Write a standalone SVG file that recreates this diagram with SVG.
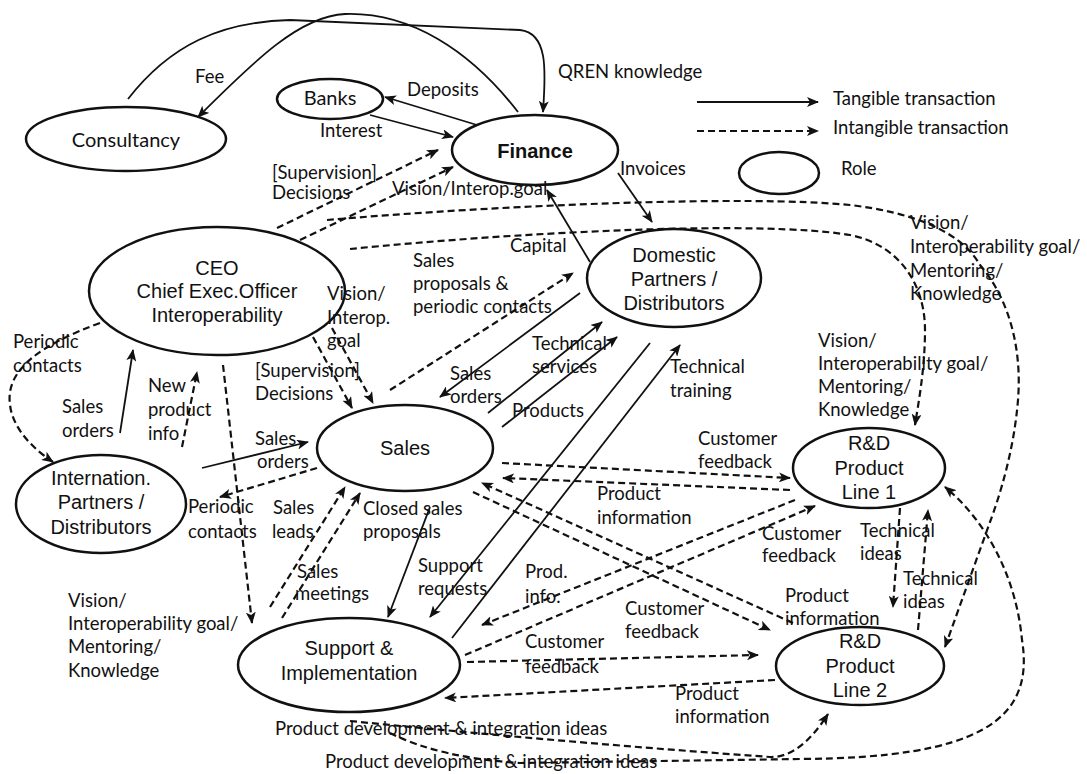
<svg xmlns="http://www.w3.org/2000/svg" width="1087" height="774" viewBox="0 0 1087 774">
  <defs>
    <marker id="arr" viewBox="0 0 12 10" refX="11" refY="5" markerWidth="12" markerHeight="10" markerUnits="userSpaceOnUse" orient="auto">
      <path d="M0,0 L12,5 L0,10 L3,5 z" fill="#111"/>
    </marker>
    <style>
      .role { fill: none; stroke: #111; stroke-width: 2.5; }
      .solid { fill: none; stroke: #111; stroke-width: 1.8; marker-end: url(#arr); }
      .dash { fill: none; stroke: #111; stroke-width: 2.2; stroke-dasharray: 7 4; marker-end: url(#arr); }
      .nt { font-family: "Liberation Sans", Arial, sans-serif; font-size: 20px; fill: #111; text-anchor: middle; }
      .nc { font-family: Lato, "Liberation Sans", sans-serif; font-size: 20px; fill: #111; text-anchor: middle; }
      .lbl { font-family: Lato, "Liberation Sans", sans-serif; font-size: 18.5px; fill: #111; }
    </style>
  </defs>
  <rect width="1087" height="774" fill="#fff"/>

  <!-- roles -->
  <g id="consultancy">
    <ellipse class="role" cx="126" cy="139" rx="100" ry="32"/>
    <text class="nc" x="126" y="147">Consultancy</text>
  </g>
  <g id="banks">
    <ellipse class="role" cx="330" cy="99" rx="53" ry="20"/>
    <text class="nc" x="330" y="105">Banks</text>
  </g>
  <g id="finance">
    <ellipse class="role" cx="535" cy="150" rx="83" ry="35"/>
    <text class="nt" x="535" y="158" font-weight="bold">Finance</text>
  </g>
  <g id="ceo">
    <ellipse class="role" cx="217" cy="291" rx="128" ry="64"/>
    <text class="nt" x="217" y="275">CEO</text>
    <text class="nt" x="217" y="298">Chief Exec.Officer</text>
    <text class="nt" x="217" y="322">Interoperability</text>
  </g>
  <g id="domestic">
    <ellipse class="role" cx="674" cy="278" rx="87" ry="49"/>
    <text class="nt" x="674" y="262">Domestic</text>
    <text class="nt" x="674" y="286">Partners /</text>
    <text class="nt" x="674" y="310">Distributors</text>
  </g>
  <g id="sales">
    <ellipse class="role" cx="405" cy="448" rx="88" ry="43"/>
    <text class="nt" x="405" y="455" font-size="22">Sales</text>
  </g>
  <g id="internation">
    <ellipse class="role" cx="101" cy="504" rx="85" ry="49"/>
    <text class="nt" x="101" y="485">Internation.</text>
    <text class="nt" x="101" y="509">Partners /</text>
    <text class="nt" x="101" y="534">Distributors</text>
  </g>
  <g id="support">
    <ellipse class="role" cx="349" cy="665" rx="111" ry="47"/>
    <text class="nt" x="349" y="655">Support &amp;</text>
    <text class="nt" x="349" y="680">Implementation</text>
  </g>
  <g id="rd1">
    <ellipse class="role" cx="869" cy="468" rx="76" ry="40"/>
    <text class="nt" x="869" y="450">R&amp;D</text>
    <text class="nt" x="869" y="475">Product</text>
    <text class="nt" x="869" y="499">Line 1</text>
  </g>
  <g id="rd2">
    <ellipse class="role" cx="860" cy="666" rx="84" ry="39"/>
    <text class="nt" x="860" y="648">R&amp;D</text>
    <text class="nt" x="860" y="673">Product</text>
    <text class="nt" x="860" y="697">Line 2</text>
  </g>

  <!-- connectors -->
  <g id="connectors">
    <!-- tangible (solid) -->
    <path class="solid" d="M128,99 C170,45 220,22 290,20 L520,30 C548,33 546,70 543,112"/>
    <path class="solid" d="M518,112 C470,50 410,12 345,14 C300,16 255,60 198,117"/>
    <path class="solid" d="M477,125 L385,97"/>
    <path class="solid" d="M370,115 L453,137"/>
    <path class="solid" d="M590,262 L547,190"/>
    <path class="solid" d="M618,173 L652,222"/>
    <path class="solid" d="M120,433 L133,350"/>
    <path class="solid" d="M202,468 L308,442"/>
    <path class="solid" d="M580,293 L440,397"/>
    <path class="solid" d="M488,413 L602,322"/>
    <path class="solid" d="M502,427 L617,337"/>
    <path class="solid" d="M650,343 L430,617"/>
    <path class="solid" d="M452,638 L680,345"/>
    <path class="solid" d="M430,507 L388,617"/>

    <!-- intangible (dashed) -->
    <path class="dash" d="M277,228 L438,150"/>
    <path class="dash" d="M300,240 L453,167"/>
    <path class="dash" d="M327,220 C500,205 750,195 850,205 C910,212 960,230 980,265 C1010,300 1022,350 1018,400 C1014,450 1000,495 990,522 L945,647"/>
    <path class="dash" d="M350,249 C520,232 760,220 850,235 C900,245 925,285 925,330 C925,370 918,405 915,425"/>
    <path class="dash" d="M390,390 L573,273"/>
    <path class="dash" d="M313,337 L352,408"/>
    <path class="dash" d="M332,328 L373,403"/>
    <path class="dash" d="M100,323 C40,345 5,370 10,405 C13,430 35,450 53,462"/>
    <path class="dash" d="M182,447 L197,372"/>
    <path class="dash" d="M317,468 L220,497"/>
    <path class="dash" d="M223,365 L252,623"/>
    <path class="dash" d="M270,607 L345,487"/>
    <path class="dash" d="M282,618 L360,493"/>
    <path class="dash" d="M502,463 L790,478"/>
    <path class="dash" d="M790,490 L503,478"/>
    <path class="dash" d="M793,623 L482,483"/>
    <path class="dash" d="M473,492 L770,630"/>
    <path class="dash" d="M795,500 L482,625"/>
    <path class="dash" d="M465,655 L815,506"/>
    <path class="dash" d="M467,662 L758,655"/>
    <path class="dash" d="M775,680 L445,698"/>
    <path class="dash" d="M900,508 L893,607"/>
    <path class="dash" d="M918,630 L928,510"/>
    <path class="dash" d="M350,721 Q560,742 770,757 Q800,758 828,714"/>
    <path class="dash" d="M390,733 Q440,758 520,763 L800,759 C980,758 1035,720 1022,640 C1016,575 985,520 945,487"/>
  </g>

  <!-- connector labels -->
  <g id="labels" class="lbl">
    <text x="195" y="83">Fee</text>
    <text x="558" y="78">QREN knowledge</text>
    <text x="407" y="96">Deposits</text>
    <text x="320" y="137">Interest</text>
    <text x="272" y="179">[Supervision]</text>
    <text x="272" y="199">Decisions</text>
    <text x="392" y="195">Vision/Interop.goal</text>
    <text x="620" y="175">Invoices</text>
    <text x="510" y="252">Capital</text>
    <text x="910" y="229">Vision/</text>
    <text x="910" y="253">Interoperability goal/</text>
    <text x="910" y="277">Mentoring/</text>
    <text x="910" y="300">Knowledge</text>
    <text x="413" y="267">Sales</text>
    <text x="413" y="290">proposals &amp;</text>
    <text x="413" y="313">periodic contacts</text>
    <text x="327" y="300">Vision/</text>
    <text x="327" y="324">Interop.</text>
    <text x="327" y="347">goal</text>
    <text x="13" y="348">Periodic</text>
    <text x="13" y="372">contacts</text>
    <text x="62" y="413">Sales</text>
    <text x="62" y="437">orders</text>
    <text x="148" y="392">New</text>
    <text x="148" y="416">product</text>
    <text x="148" y="440">info</text>
    <text x="255" y="377">[Supervision]</text>
    <text x="255" y="400">Decisions</text>
    <text x="255" y="445">Sales</text>
    <text x="257" y="468">orders</text>
    <text x="450" y="380">Sales</text>
    <text x="450" y="403">orders</text>
    <text x="532" y="350">Technical</text>
    <text x="532" y="373">services</text>
    <text x="512" y="417">Products</text>
    <text x="670" y="373">Technical</text>
    <text x="670" y="397">training</text>
    <text x="818" y="347">Vision/</text>
    <text x="818" y="370">Interoperability goal/</text>
    <text x="818" y="393">Mentoring/</text>
    <text x="818" y="416">Knowledge</text>
    <text x="698" y="445">Customer</text>
    <text x="698" y="468">feedback</text>
    <text x="597" y="500">Product</text>
    <text x="597" y="524">information</text>
    <text x="188" y="513">Periodic</text>
    <text x="188" y="538">contacts</text>
    <text x="273" y="514">Sales</text>
    <text x="272" y="538">leads</text>
    <text x="363" y="515">Closed sales</text>
    <text x="363" y="538">proposals</text>
    <text x="762" y="540">Customer</text>
    <text x="762" y="562">feedback</text>
    <text x="860" y="537">Technical</text>
    <text x="860" y="560">ideas</text>
    <text x="297" y="578">Sales</text>
    <text x="295" y="600">meetings</text>
    <text x="418" y="572">Support</text>
    <text x="418" y="595">requests</text>
    <text x="525" y="578">Prod.</text>
    <text x="525" y="603">info.</text>
    <text x="785" y="602">Product</text>
    <text x="785" y="625">information</text>
    <text x="903" y="585">Technical</text>
    <text x="903" y="608">ideas</text>
    <text x="625" y="615">Customer</text>
    <text x="625" y="638">feedback</text>
    <text x="68" y="607">Vision/</text>
    <text x="68" y="630">Interoperability goal/</text>
    <text x="68" y="653">Mentoring/</text>
    <text x="68" y="677">Knowledge</text>
    <text x="525" y="648">Customer</text>
    <text x="525" y="673">feedback</text>
    <text x="675" y="700">Product</text>
    <text x="675" y="723">information</text>
    <text x="275" y="735">Product development &amp; integration ideas</text>
    <text x="325" y="768">Product development &amp; integration ideas</text>
  </g>

  <!-- legend -->
  <g id="legend">
    <path class="solid" d="M697,102 L818,102"/>
    <path class="dash" d="M697,131 L818,131"/>
    <ellipse class="role" cx="779" cy="173" rx="40" ry="21"/>
    <text class="lbl" x="833" y="105">Tangible transaction</text>
    <text class="lbl" x="833" y="134">Intangible transaction</text>
    <text class="lbl" x="841" y="175">Role</text>
  </g>
</svg>
